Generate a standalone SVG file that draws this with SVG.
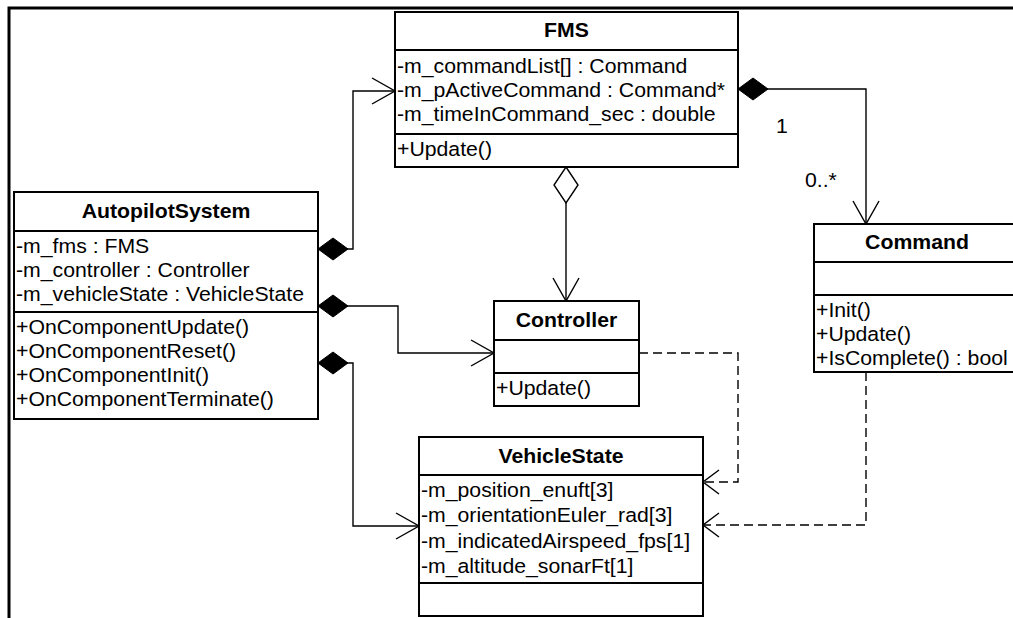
<svg xmlns="http://www.w3.org/2000/svg" width="1013" height="618" viewBox="0 0 1013 618">
  <style>
    text { font-family: "Liberation Sans", Arial, Helvetica, sans-serif; font-size: 19.5px; fill: #000;
           transform-box: fill-box; transform-origin: 0% 50%; transform: scaleX(1.09); }
    text.title { font-weight: bold; text-anchor: middle; transform-origin: 50% 50%; }
    .box { fill: #fff; stroke: #000; stroke-width: 2; }
    .sep { stroke: #000; stroke-width: 2; }
    .conn { fill: none; stroke: #000; stroke-width: 1.4; }
    .dash { stroke-dasharray: 9 5; }
  </style>
  <defs>
    <marker id="composite" markerUnits="userSpaceOnUse" orient="auto" refX="0" refY="0" markerWidth="40" markerHeight="30" overflow="visible">
      <path d="M0,0 L15,-11 L30,0 L15,11 Z" fill="#000" stroke="#000" stroke-width="1"/>
    </marker>
    <marker id="aggregate" markerUnits="userSpaceOnUse" orient="auto" refX="0" refY="0" markerWidth="40" markerHeight="30" overflow="visible">
      <path d="M0,0 L18,-12 L36,0 L18,12 Z" fill="#fff" stroke="#000" stroke-width="1.4"/>
    </marker>
    <marker id="open" markerUnits="userSpaceOnUse" orient="auto" refX="0" refY="0" markerWidth="30" markerHeight="30" overflow="visible">
      <path d="M-23,-13 L0,0 L-23,13" fill="none" stroke="#000" stroke-width="1.4"/>
    </marker>
    <marker id="openSmall" markerUnits="userSpaceOnUse" orient="auto" refX="0" refY="0" markerWidth="30" markerHeight="30" overflow="visible">
      <path d="M-16,-12 L0,0 L-16,12" fill="none" stroke="#000" stroke-width="1.4"/>
    </marker>
  </defs>

  <rect width="1013" height="618" fill="#fff"/>
  <!-- outer frame -->
  <polyline points="1013,8 9,8 9,618" fill="none" stroke="#000" stroke-width="3"/>

  <g id="connectors">
    <path class="conn" d="M318,249 H353 V91 H395" marker-start="url(#composite)" marker-end="url(#open)"/>
    <path class="conn" d="M318,306 H398 V353 H494" marker-start="url(#composite)" marker-end="url(#open)"/>
    <path class="conn" d="M318,363 H353 V526 H419" marker-start="url(#composite)" marker-end="url(#open)"/>
    <path class="conn" d="M566,167 V301" marker-start="url(#aggregate)" marker-end="url(#open)"/>
    <path class="conn" d="M738,89 H866 V224" marker-start="url(#composite)" marker-end="url(#open)"/>
    <path class="conn dash" d="M639,353 H738 V482 H703" marker-end="url(#openSmall)"/>
    <path class="conn dash" d="M866,372 V525 H703" marker-end="url(#openSmall)"/>
    <text x="776" y="133">1</text>
    <text x="805" y="187">0..*</text>
  </g>

  <g id="FMS">
    <rect class="box" x="395" y="12" width="343" height="155"/>
    <line class="sep" x1="395" y1="50" x2="738" y2="50"/>
    <line class="sep" x1="395" y1="134" x2="738" y2="134"/>
    <text class="title" x="566.5" y="37">FMS</text>
    <text x="397" y="73">-m_commandList[] : Command</text>
    <text x="397" y="97">-m_pActiveCommand : Command*</text>
    <text x="397" y="121">-m_timeInCommand_sec : double</text>
    <text x="397" y="156">+Update()</text>
  </g>

  <g id="AutopilotSystem">
    <rect class="box" x="14" y="192" width="304" height="227"/>
    <line class="sep" x1="14" y1="231" x2="318" y2="231"/>
    <line class="sep" x1="14" y1="312" x2="318" y2="312"/>
    <text class="title" x="166" y="218">AutopilotSystem</text>
    <text x="16" y="253">-m_fms : FMS</text>
    <text x="16" y="277">-m_controller : Controller</text>
    <text x="16" y="301">-m_vehicleState : VehicleState</text>
    <text x="16" y="334">+OnComponentUpdate()</text>
    <text x="16" y="358">+OnComponentReset()</text>
    <text x="16" y="382">+OnComponentInit()</text>
    <text x="16" y="406">+OnComponentTerminate()</text>
  </g>

  <g id="Controller">
    <rect class="box" x="494" y="301" width="145" height="105"/>
    <line class="sep" x1="494" y1="340" x2="639" y2="340"/>
    <line class="sep" x1="494" y1="373" x2="639" y2="373"/>
    <text class="title" x="566.5" y="327">Controller</text>
    <text x="496" y="395">+Update()</text>
  </g>

  <g id="Command">
    <rect class="box" x="814" y="224" width="206" height="148"/>
    <line class="sep" x1="814" y1="262" x2="1020" y2="262"/>
    <line class="sep" x1="814" y1="295" x2="1020" y2="295"/>
    <text class="title" x="917" y="249">Command</text>
    <text x="816" y="317">+Init()</text>
    <text x="816" y="341">+Update()</text>
    <text x="816" y="365">+IsComplete() : bool</text>
  </g>

  <g id="VehicleState">
    <rect class="box" x="419" y="437" width="284" height="179"/>
    <line class="sep" x1="419" y1="475" x2="703" y2="475"/>
    <line class="sep" x1="419" y1="583" x2="703" y2="583"/>
    <text class="title" x="561" y="463">VehicleState</text>
    <text x="421" y="497">-m_position_enuft[3]</text>
    <text x="421" y="522.5">-m_orientationEuler_rad[3]</text>
    <text x="421" y="548">-m_indicatedAirspeed_fps[1]</text>
    <text x="421" y="573.5">-m_altitude_sonarFt[1]</text>
  </g>
</svg>
